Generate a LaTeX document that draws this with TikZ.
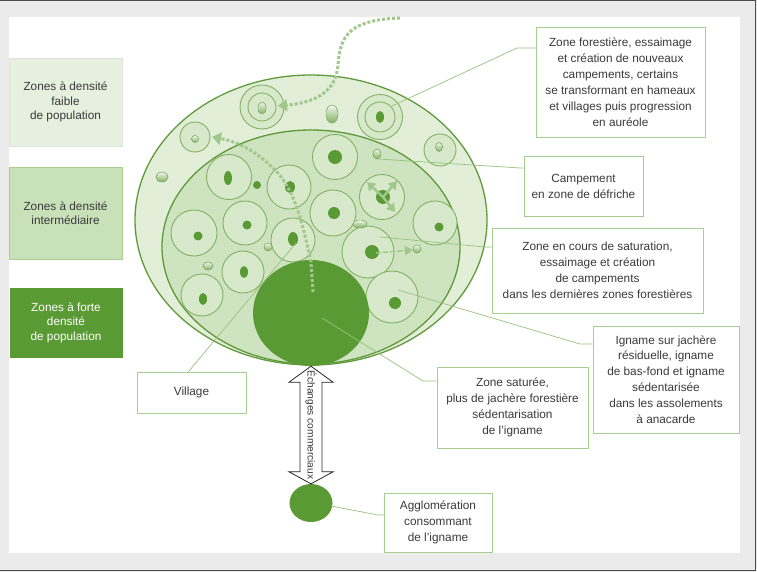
\documentclass[tikz,border=0pt]{standalone}
\usepackage{fontspec}
\setmainfont{Liberation Sans}
\usepackage{xcolor}
\usepackage{tikz}
\usetikzlibrary{shapes.geometric,arrows.meta,calc}
\definecolor{scheme}{HTML}{5A9A34}
\definecolor{outerzone}{HTML}{E3EED8}
\definecolor{innerzone}{HTML}{CEE3BF}
\definecolor{campfill}{HTML}{D8E9CB}
\definecolor{campline}{HTML}{82B164}
\definecolor{rimline}{HTML}{5F9A3A}
\definecolor{boxline}{HTML}{A8CF92}
\definecolor{leadline}{HTML}{98C27F}
\definecolor{migr}{HTML}{A0C78C}
\definecolor{txt}{HTML}{3A3A3A}
\definecolor{panel}{HTML}{EBEBEB}
\definecolor{legfaint}{HTML}{E6F0DE}
\definecolor{legmid}{HTML}{C9E1B9}

\begin{document}
\begin{tikzpicture}[x=1pt,y=-1pt,
  lbl/.style={draw=boxline,line width=0.8pt,fill=white,align=center,text=txt,inner sep=0pt,font=\fontsize{11.8}{15.9}\selectfont},
  legend/.style={lbl,font=\fontsize{11.8}{14.4}\selectfont},
  camp/.style={draw=campline,line width=0.9pt,fill=campfill},
  blob/.style={draw=campline,line width=0.5pt,top color=campfill!40!white,bottom color=campline},
  leader/.style={draw=leadline,line width=0.7pt},
  migration/.style={draw=migr,line width=3pt,dash pattern=on 3pt off 2pt,-{Triangle[width=12pt,length=9pt]}},
  spread/.style={draw=migr,line width=2.5pt,-{Triangle[width=10pt,length=8pt]}}]
\useasboundingbox (0,0) rectangle (757,572);
% frame
\fill[panel] (0,0) rectangle (757,572);
\draw[black!70,line width=1.5pt] (0,0.75) -- (755.5,0.75) -- (755.5,570.5) -- (0,570.5);
\fill[white] (9,17) rectangle (740,553);

% legend
\node[legend,fill=legfaint,draw=black!12,minimum width=113,minimum height=88] (leg1) at (65.5,102) {Zones à densité\\faible\\de population};
\node[legend,fill=legmid,draw=boxline,minimum width=113,minimum height=92] (leg2) at (65.5,213) {Zones à densité\\intermédiaire};
\node[legend,fill=scheme,draw=scheme,text=white,minimum width=112,minimum height=69] (leg3) at (66,322.5) {Zones à forte\\densité\\de population};

% zones
\draw[rimline,line width=1.3pt,fill=outerzone] (311,220) ellipse [x radius=176,y radius=145];

\coordinate (o1) at (262,107);%hameau
\coordinate (o2) at (195,137);%campement
\coordinate (o4) at (380,117);%village
\coordinate (o5) at (440,150);%campement
\filldraw[camp] (o1) circle [radius=22];
\draw[campline,line width=0.9pt] (o1) circle [radius=14];
\filldraw[camp] (o2) circle [radius=15];
\filldraw[camp] (o4) circle [radius=22.5];
\draw[campline,line width=0.9pt] (o4) circle [radius=15];
\filldraw[camp] (o5) circle [radius=16];
\fill[scheme] (o4) ellipse [x radius=4,y radius=6];
\filldraw[blob] (262,108) ellipse [x radius=4,y radius=6];
\filldraw[blob] (195,139) circle [radius=3.5];
\filldraw[blob] (332,114) ellipse [x radius=6,y radius=9];
\filldraw[blob] (439,147) ellipse [x radius=3.5,y radius=4.5];
\filldraw[blob] (162,177) ellipse [x radius=6,y radius=5];

\draw[rimline,line width=1.3pt,fill=innerzone] (311,247) ellipse [x radius=149,y radius=117];

\coordinate (c1) at (229,177);
\coordinate (c2) at (335,157);
\coordinate (c3) at (289,187);
\coordinate (c5) at (382,197);%campement en zone de defriche
\coordinate (c6) at (194,233);
\coordinate (c7) at (245,223);
\coordinate (c8) at (333,213);
\coordinate (c9) at (293,240);%village
\coordinate (c10) at (435,223);
\coordinate (c11) at (368,252);
\coordinate (c12) at (243,272);
\coordinate (c13) at (202,295);
\coordinate (c14) at (392,297);
\filldraw[camp] (c1) circle [radius=22.5];
\filldraw[camp] (c2) circle [radius=22.5];
\filldraw[camp] (c3) circle [radius=22];
\filldraw[camp] (c5) circle [radius=22.5];
\filldraw[camp] (c6) circle [radius=23];
\filldraw[camp] (c7) circle [radius=22];
\filldraw[camp] (c8) circle [radius=23];
\filldraw[camp] (c9) circle [radius=22];
\filldraw[camp] (c10) circle [radius=22];
\filldraw[camp] (c11) circle [radius=26];
\filldraw[camp] (c12) circle [radius=21];
\filldraw[camp] (c13) circle [radius=21];
\filldraw[camp] (c14) circle [radius=26];
\fill[scheme] (228,178) ellipse [x radius=4,y radius=7];
\fill[scheme] (c2) circle [radius=7];
\fill[scheme] (290,187) ellipse [x radius=5,y radius=6];
\fill[scheme] (257,185) circle [radius=4];
\fill[scheme] (383,197) circle [radius=7];
\fill[scheme] (198,236) circle [radius=4.5];
\fill[scheme] (247,225) circle [radius=4.5];
\fill[scheme] (334,213) circle [radius=6];
\fill[scheme] (293,239) ellipse [x radius=5,y radius=7];
\fill[scheme] (439,227) circle [radius=4.5];
\fill[scheme] (372,252) circle [radius=7];
\fill[scheme] (244,272) ellipse [x radius=4,y radius=6];
\fill[scheme] (203,299) ellipse [x radius=4,y radius=6];
\fill[scheme] (395,303) circle [radius=6];
\filldraw[blob] (377,154) ellipse [x radius=4,y radius=5];
\filldraw[blob] (360,224) ellipse [x radius=7,y radius=4];
\filldraw[blob] (268,247) circle [radius=4];
\filldraw[blob] (208,266) ellipse [x radius=5,y radius=4];
\filldraw[blob] (417,249) circle [radius=4];

% saturated zone and town
\node[ellipse,fill=scheme,minimum width=116,minimum height=106,inner sep=0pt] (big) at (311,313) {};
\node[ellipse,fill=scheme,minimum width=43,minimum height=38,inner sep=0pt] (agglo) at (311,503) {};

% spreading
\draw[spread] (383,197) -- (367,182);
\draw[spread] (383,197) -- (397,181);
\draw[spread] (383,197) -- (395,212);
\draw[draw=migr,line width=1.5pt,dash pattern=on 5pt off 2pt,-{Triangle[width=9pt,length=8pt]}] (376,253) -- (413,250);
\draw[migration] (400,18) .. controls (350,20) and (340,35) .. (338,65) .. controls (336,95) and (310,103) .. (278,106);
\draw[migration] (313,292) -- (311,262) .. controls (303,225) and (295,190) .. (275,170) .. controls (258,153) and (240,142) .. (212,137);

% double arrow
\draw[black!85,line width=0.8pt,fill=white] (big.south) -- ++(22,16) -- ++(-11,0) -- ($(agglo.north)+(11,-12)$) -- ++(11,0) -- (agglo.north) -- ++(-22,-12) -- ++(11,0) -- ($(big.south)+(-11,16)$) -- ++(-11,0) -- cycle;
\node[rotate=-90,text=txt,inner sep=0pt,font=\fontsize{10.2}{12}\selectfont] (exch) at ($(big.south)!0.5!(agglo.north)$) {Échanges commerciaux};

% labels
\node[lbl,minimum width=169,minimum height=110] (zA) at (620.5,82) {Zone forestière, essaimage\\et création de nouveaux\\campements, certains\\se transformant en hameaux\\et villages puis progression\\en auréole};
\node[lbl,minimum width=119,minimum height=60] (zB) at (583.5,186) {Campement\\en zone de défriche};
\node[lbl,minimum width=211,minimum height=85] (zC) at (597.5,270.5) {Zone en cours de saturation,\\essaimage et création\\de campements\\dans les dernières zones forestières};
\node[lbl,minimum width=146,minimum height=107] (zD) at (666,379.5) {Igname sur jachère\\résiduelle, igname\\de bas-fond et igname\\sédentarisée\\dans les assolements\\à anacarde};
\node[lbl,minimum width=151,minimum height=81] (zE) at (512.5,407.5) {Zone saturée,\\plus de jachère forestière\\sédentarisation\\de l'igname};
\node[lbl,minimum width=109,minimum height=41] (zF) at (191.5,392.5) {Village};
\node[lbl,minimum width=108,minimum height=59] (zG) at (438,522.5) {Agglomération\\consommant\\de l'igname};

\coordinate (kA) at (517,48);
\coordinate (kB) at (520,168);
\coordinate (kC) at (485,247);
\coordinate (kD) at (580,344);
\coordinate (kE) at (423,381);
\coordinate (kG) at (378,515);
\coordinate (pA) at (392,106);
\coordinate (pB) at (378,159);
\coordinate (pC) at (380,237);
\coordinate (pD) at (398,290);
\coordinate (pE) at (322,318);
\coordinate (pF) at (296,243);
\coordinate (pG) at (331,506);
\draw[leader] (pA) -- (kA) -- (kA -| zA.west);
\draw[leader] (pB) -- (kB) -- (kB -| zB.west);
\draw[leader] (pC) -- (kC) -- (kC -| zC.west);
\draw[leader] (pD) -- (kD) -- (kD -| zD.west);
\draw[leader] (pE) -- (kE) -- (kE -| zE.west);
\draw[leader] (pF) -- ($(zF.north)+(-3,0)$);
\draw[leader] (pG) -- (kG) -- (kG -| zG.west);
\end{tikzpicture}
\end{document}
